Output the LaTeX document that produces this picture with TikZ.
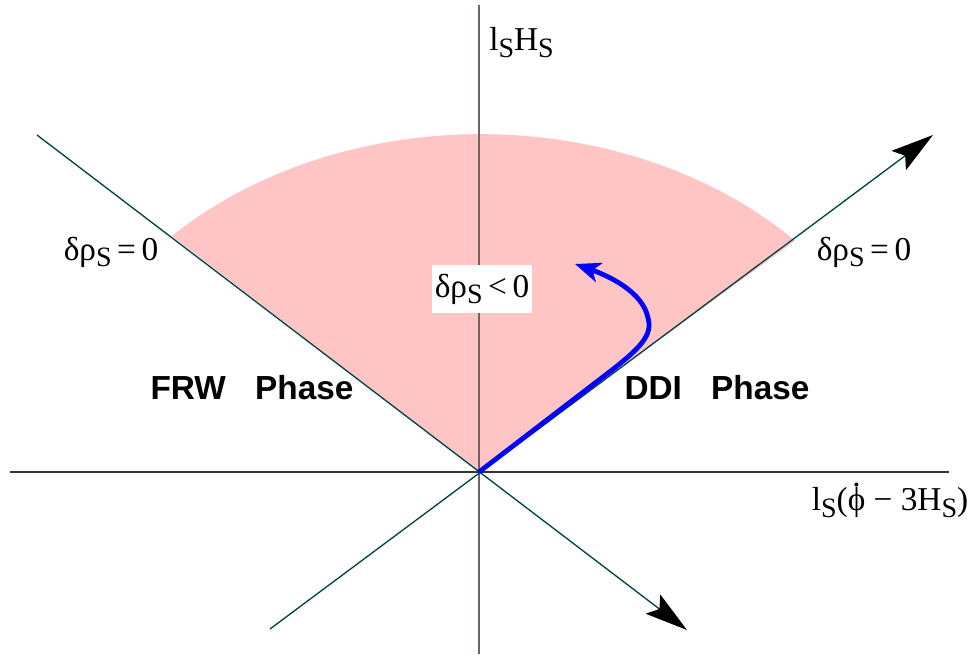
\documentclass[tikz,border=0pt]{standalone}
\usepackage{fontspec}
\setmainfont{Liberation Serif}
\newfontfamily\phasefont{Liberation Sans}
\usetikzlibrary{arrows.meta}
\newcommand\subS{\raisebox{-0.45ex}{\fontsize{21}{22}\selectfont S}}
\newcommand\dotphi{\ooalign{ϕ\cr\hidewidth\raisebox{0.72em}{.}\hidewidth\cr}}
\definecolor{axisgray}{HTML}{6E6262}
\definecolor{nullteal}{HTML}{004444}
\definecolor{regionpink}{HTML}{FFC4C4}

\begin{document}
\begin{tikzpicture}[
    x=0.75pt, y=0.75pt,
    every node/.style={font=\fontsize{25}{30}\selectfont, inner sep=0pt},
    vaxis/.style={draw=axisgray, line width=1.1pt},
    haxis/.style={draw=black!80, line width=1.1pt},
    nullline/.style={draw=nullteal, line width=1.0pt},
    head/.style={-{Stealth[length=32pt, width=18pt, inset=6pt, color=black]}},
    flow/.style={draw=blue, line width=3.6pt, -{Stealth[length=19pt, width=15pt, inset=5pt]}},
    region/.style={fill=regionpink},
    phase/.style={font=\phasefont\bfseries\fontsize{25}{30}\selectfont},
    box/.style={fill=white, minimum width=75pt, minimum height=36pt}
]
\useasboundingbox (-479,-182) rectangle (490,472);
\coordinate (O) at (0,0);
\coordinate (top) at (0,467);
\coordinate (bottom) at (0,-182);
\coordinate (left) at (-469,0);
\coordinate (right) at (470,0);
\coordinate (ul) at (-442,337);
\coordinate (lr) at (208,-158);
\coordinate (ll) at (-209,-157);
\coordinate (ur) at (454,337);
\coordinate (bend) at (133,102);
\coordinate (turn) at (169,154);
\coordinate (tip) at (96,208);

% region delta rho < 0
\fill[region] (O) -- (-307,236) arc[start angle=135.6, end angle=43.3, x radius=432, y radius=339] -- cycle;

% axes
\draw[vaxis] (bottom) -- (top);
\draw[haxis] (left) -- (right);

% delta rho = 0 lines
\draw[nullline, head] (ul) -- (lr);
\draw[nullline, head] (ll) -- (ur);

% trajectory
\draw[flow] (O) -- (bend) .. controls (161,124) and (174,137) .. (turn)
    .. controls (164,180) and (130,196) .. (tip);

% labels
\node[anchor=west] (ylab) at (10,429) {l\subS H\subS};
\node (xlab) at (411,-31) {l\subS(\dotphi\ − 3H\subS)};
\node (nullL) at (-368,220) {δρ\subS\,=\,0};
\node (nullR) at (385,220) {δρ\subS\,=\,0};
\node[box] (neg) at (3,183) {δρ\subS\,<\,0};
\node[phase] (frw) at (-227,84) {FRW\hspace{22pt}Phase};
\node[phase] (ddi) at (238,84) {DDI\hspace{22pt}Phase};
\end{tikzpicture}
\end{document}
